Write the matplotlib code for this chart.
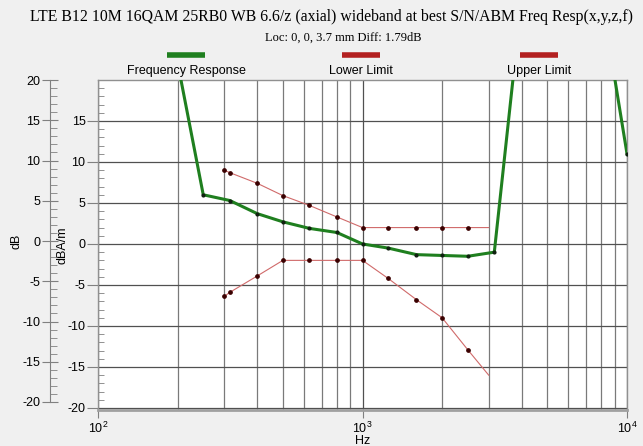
import matplotlib
matplotlib.use("Agg")
import matplotlib.pyplot as plt
from matplotlib.ticker import LogLocator, MultipleLocator, NullFormatter
from matplotlib.lines import Line2D

# Frequency response (1/3 octave points), dB
resp_freq = [200, 250, 315, 400, 500, 630, 800, 1000, 1250, 1600, 2000, 2500, 3150, 4000, 5000, 6300, 8000, 10000]
resp_db = [22.1, 6.0, 5.3, 3.7, 2.7, 1.9, 1.4, 0.0, -0.5, -1.3, -1.4, -1.5, -1.0, 30.0, 36.0, 36.0, 30.2, 11.0]

# Limits
lim_freq = [300, 315, 400, 500, 630, 800, 1000, 1250, 1600, 2000, 2500, 3000]
lower_db = [-6.4, -5.9, -3.9, -2.0, -2.0, -2.0, -2.0, -4.2, -6.8, -9.0, -12.9, -16.0]
upper_db = [9.0, 8.7, 7.4, 5.9, 4.7, 3.3, 2.0, 2.0, 2.0, 2.0, 2.0, 2.0]

title = "LTE B12 10M 16QAM 25RB0 WB 6.6/z (axial) wideband at best S/N/ABM Freq Resp(x,y,z,f)"
subtitle = "Loc: 0, 0, 3.7 mm Diff: 1.79dB"
legend_names = ["Frequency Response", "Lower Limit", "Upper Limit"]

plt.rcParams['font.family'] = ['Liberation Sans', 'DejaVu Sans']
plt.rcParams['axes.unicode_minus'] = False
W, H = 643, 446
fig = plt.figure(figsize=(W / 100, H / 100), dpi=100, facecolor='#f0f0f0')

# main plot area
ax = fig.add_axes([98 / W, 1 - 410 / H, (627 - 98) / W, (410 - 80) / H])
ax.set_facecolor('white')
ax.set_xscale('log')
ax.set_xlim(100, 10000)
ax.set_ylim(-20.25, 20)

ax.xaxis.set_major_locator(LogLocator(base=10))
ax.xaxis.set_minor_locator(LogLocator(base=10, subs=range(2, 10)))
ax.xaxis.set_minor_formatter(NullFormatter())
ax.yaxis.set_minor_locator(MultipleLocator(1))
ax.set_yticks([-20, -15, -10, -5, 0, 5, 10, 15])
ax.set_yticklabels(['-20', '-15', '-10', '-5', '0', '5', '10', '15'])

ax.grid(True, which='major', axis='both', color='#505050', lw=0.9)
ax.grid(True, which='minor', axis='x', color='#7a7a7a', lw=0.9)
ax.tick_params(axis='y', which='major', direction='out', length=8, color='#808080', labelsize=9, pad=1)
ax.tick_params(axis='y', which='minor', direction='in', length=4, color='#808080')
ax.tick_params(axis='x', which='major', direction='out', length=6, color='#808080', labelsize=9, pad=2)
ax.tick_params(axis='x', which='minor', length=0)
for s in ax.spines.values():
    s.set_color('#909090')
    s.set_linewidth(1.0)
ax.spines['bottom'].set_linewidth(2.0)
ax.spines['bottom'].set_color('#a0a0a0')

ax.plot(lim_freq, lower_db, color='#d06a6a', lw=0.8, zorder=3)
ax.plot(lim_freq[:-1], lower_db[:-1], ls='none', marker='o', ms=2.4, color='#3a0000', zorder=4)
ax.plot(lim_freq, upper_db, color='#d06a6a', lw=0.8, zorder=3)
ax.plot(lim_freq[:-1], upper_db[:-1], ls='none', marker='o', ms=2.4, color='#3a0000', zorder=4)
ax.plot(resp_freq, resp_db, color='#1f7f1f', lw=2.2, zorder=5)
ax.plot(resp_freq, resp_db, ls='none', marker='o', ms=2.0, color='#102010', zorder=6)

ax.set_xlabel('Hz', fontsize=9, labelpad=-1)
ax.set_ylabel('dBA/m', fontsize=9)
ax.yaxis.set_label_coords(-30 / (627 - 98), 0.5)

# outer dB axis
ax2 = fig.add_axes([50 / W, 1 - 402 / H, 0.001, (402 - 80) / H])
ax2.set_ylim(-20, 20)
ax2.patch.set_visible(False)
for k in ['top', 'right', 'bottom']:
    ax2.spines[k].set_visible(False)
ax2.spines['left'].set_color('#808080')
ax2.set_xticks([])
ax2.yaxis.set_major_locator(MultipleLocator(5))
ax2.yaxis.set_minor_locator(MultipleLocator(1))
ax2.tick_params(axis='y', which='major', direction='inout', length=12, color='#808080', labelsize=9, pad=1)
ax2.tick_params(axis='y', which='minor', direction='in', length=5, color='#808080')
ax2.set_ylabel('dB', fontsize=9)
ax2.yaxis.set_label_coords(-27 / 0.643, 0.5)

# titles
fig.text(0.5 + 10 / W, 1 - 17 / H, title, ha='center', va='center',
         family='Liberation Serif', fontsize=11.3)
fig.text(0.5 + 22 / W, 1 - 38 / H, subtitle, ha='center', va='center',
         family='Liberation Serif', fontsize=9)

# legend: bar above each name
leg_x = [186, 361, 539]
leg_c = ['#1f7f1f', '#b32020', '#b32020']
for name, cx, c in zip(legend_names, leg_x, leg_c):
    fig.add_artist(Line2D([(cx - 19) / W, (cx + 19) / W], [1 - 55 / H, 1 - 55 / H],
                          color=c, lw=4, solid_capstyle='butt'))
    fig.text(cx / W, 1 - 71 / H, name, ha='center', va='center', fontsize=9)

fig.savefig('out.png', dpi=100, facecolor=fig.get_facecolor())
